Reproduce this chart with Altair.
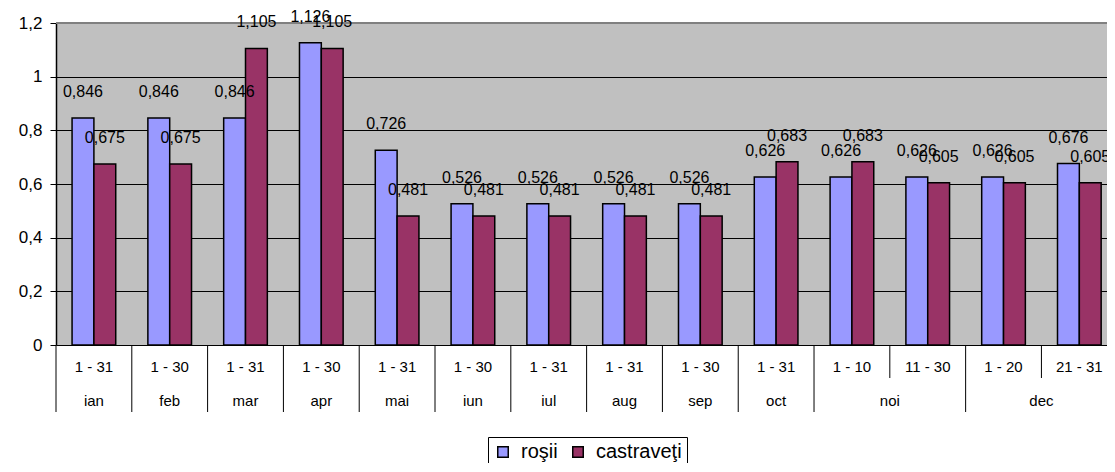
import altair as alt
import pandas as pd

# ---- data ----
periods = ["1 - 31", "1 - 30", "1 - 31", "1 - 30", "1 - 31", "1 - 30", "1 - 31",
           "1 - 31", "1 - 30", "1 - 31", "1 - 10", "11 - 30", "1 - 20", "21 - 31"]
months = ["ian", "feb", "mar", "apr", "mai", "iun", "iul", "aug", "sep", "oct", "noi", "dec"]
month_span = [1, 1, 1, 1, 1, 1, 1, 1, 1, 1, 2, 2]
rosii = [0.846, 0.846, 0.846, 1.126, 0.726, 0.526, 0.526, 0.526, 0.526, 0.626, 0.626, 0.626, 0.626, 0.676]
castraveti = [0.675, 0.675, 1.105, 1.105, 0.481, 0.481, 0.481, 0.481, 0.481, 0.683, 0.683, 0.605, 0.605, 0.605]
series_names = ["roşii", "castraveţi"]
series_colors = ["#9999FF", "#993366"]
y_ticks = [0, 0.2, 0.4, 0.6, 0.8, 1.0, 1.2]

# ---- tables ----
rows = []
for s_i, (name, vals) in enumerate(zip(series_names, [rosii, castraveti])):
    for i, v in enumerate(vals):
        rows.append({"idx": i, "series": name, "s": s_i, "value": v})
bars_df = pd.DataFrame(rows)

period_df = pd.DataFrame({"idx": list(range(len(periods))), "period": periods})

starts = []
acc = 0
for sp in month_span:
    starts.append(acc)
    acc += sp
month_df = pd.DataFrame({"month": months, "start": starts, "span": month_span})
sep_long = pd.DataFrame({"pos": starts})
sep_short = pd.DataFrame({"pos": [st + k for st, sp in zip(starts, month_span) for k in range(1, sp)]})

W = 1051
H = 322
xscale = alt.Scale(domain=[0, 13.865], nice=False, zero=False)
yscale = alt.Scale(domain=[0, 1.2], nice=False)
FONT = "Liberation Sans"

base = alt.Chart(bars_df).transform_calculate(
    x0="datum.idx + 0.212 + datum.s * 0.288",
    x1="datum.idx + 0.212 + datum.s * 0.288 + 0.288",
    xc="datum.idx + 0.212 + datum.s * 0.288 + 0.144",
    label="replace(format(datum.value, '.3f'), '.', ',')",
)

bars = base.mark_bar(stroke="black", strokeWidth=1.5, clip=True, opacity=1).encode(
    x=alt.X("x0:Q", scale=xscale, axis=None),
    x2="x1:Q",
    y=alt.Y("value:Q", scale=yscale, title=None,
            axis=alt.Axis(values=y_ticks, grid=True, gridColor="black", gridWidth=1, gridOpacity=1,
                          domainColor="black", domainWidth=1.5, tickColor="black", tickSize=6,
                          labelFontSize=17, labelFont=FONT, labelColor="black", labelPadding=8,
                          labelExpr="replace(format(datum.value, '~g'), '.', ',')")),
    y2=alt.datum(0),
    color=alt.Color("series:N", scale=alt.Scale(domain=series_names, range=series_colors),
                    legend=alt.Legend(title=None, orient="none", legendX=432, legendY=414,
                                      direction="horizontal", strokeColor="black", fillColor="white",
                                      padding=5, symbolType="square", symbolSize=110,
                                      symbolStrokeColor="black", symbolStrokeWidth=1.5,
                                      symbolOpacity=1,
                                      labelFontSize=20, labelFont=FONT, labelColor="black",
                                      columnPadding=10, labelOffset=8)),
)

labels = base.mark_text(fontSize=16, font=FONT, color="black", dy=-26, baseline="middle").encode(
    x=alt.X("xc:Q", scale=xscale),
    y=alt.Y("value:Q", scale=yscale),
    text="label:N",
)

top_border = alt.Chart(pd.DataFrame({"v": [1.2]})).mark_rule(color="#808080", strokeWidth=2).encode(
    y=alt.Y("v:Q", scale=yscale)
)

long_sep = alt.Chart(sep_long).mark_rule(color="black", strokeWidth=1).encode(
    x=alt.X("pos:Q", scale=xscale), y=alt.value(H), y2=alt.value(H + 67)
)
short_sep = alt.Chart(sep_short).mark_rule(color="black", strokeWidth=1).encode(
    x=alt.X("pos:Q", scale=xscale), y=alt.value(H), y2=alt.value(H + 33)
)

period_text = alt.Chart(period_df).transform_calculate(xm="datum.idx + 0.5").mark_text(
    fontSize=15, font=FONT, color="black", baseline="middle"
).encode(x=alt.X("xm:Q", scale=xscale), y=alt.value(H + 22), text="period:N")

month_text = alt.Chart(month_df).transform_calculate(xm="datum.start + datum.span / 2").mark_text(
    fontSize=15, font=FONT, color="black", baseline="middle"
).encode(x=alt.X("xm:Q", scale=xscale), y=alt.value(H + 56), text="month:N")

chart = alt.layer(
    bars, top_border, labels, long_sep, short_sep, period_text, month_text
).properties(
    width=W, height=H, autosize="none",
    padding={"left": 48, "top": 15, "right": 0, "bottom": 118},
).configure(font=FONT).configure_view(stroke=None, fill="#C0C0C0")

chart.save("out.html", embed_options={"renderer": "svg", "actions": False})
